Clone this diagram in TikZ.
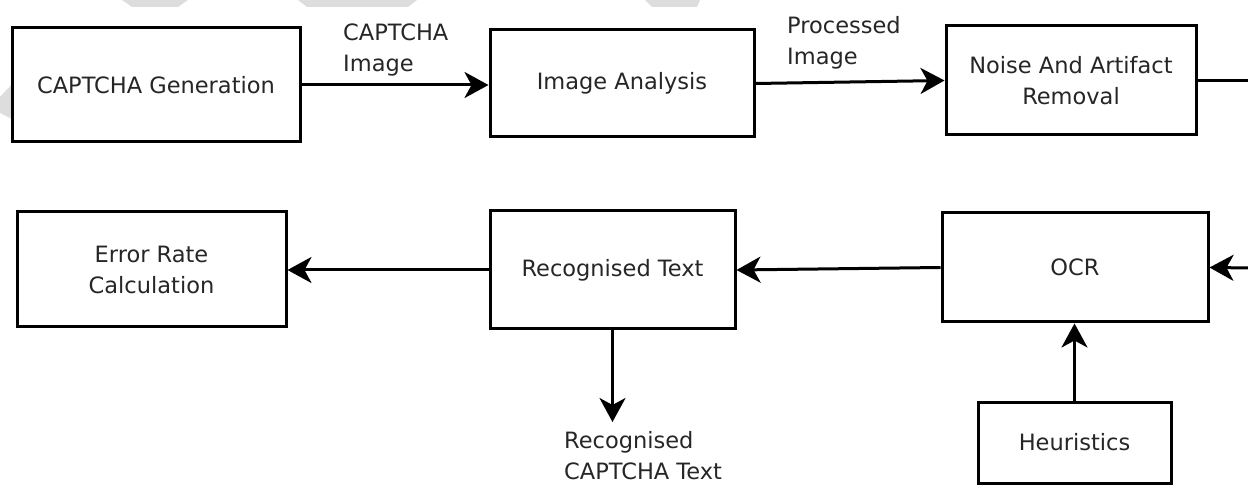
\documentclass[tikz,border=0pt]{standalone}
\usepackage{fontspec}
\setmainfont{DejaVu Sans}
\usetikzlibrary{arrows.meta}
\definecolor{backdrop}{HTML}{DDDDDD}
\definecolor{ink}{HTML}{262626}
\tikzset{
  box/.style={draw=black, line width=3pt, fill=white, align=center,
    text=ink, inner sep=0pt},
  flow/.style={draw=black, line width=3pt,
    -{Stealth[length=24pt, width=26pt, inset=7pt]}},
  plain/.style={draw=black, line width=3pt},
  lbl/.style={text=ink, align=left, inner sep=0pt, anchor=west},
}
\begin{document}
\begin{tikzpicture}[x=1pt, y=-1pt,
  every node/.append style={font=\fontsize{22.5}{31}\selectfont}]
\useasboundingbox (0,0) rectangle (1248,486);

% faint backdrop shapes along the top edge
\fill[backdrop] (122,0) -- (188,0) -- (178,7) -- (132,7) -- cycle;
\fill[backdrop] (298,0) -- (417,0) -- (408,7) -- (307,7) -- cycle;
\fill[backdrop] (645,0) -- (700,0) -- (697,7) -- (652,7) -- cycle;
\fill[backdrop] (0,97) -- (14,82) -- (14,120) -- (0,113) -- cycle;

% process boxes
\node[box, minimum width=288pt, minimum height=114pt] (gen)   at (156,85)     {CAPTCHA Generation};
\node[box, minimum width=264pt, minimum height=107pt] (ia)    at (622,83.5)   {Image Analysis};
\node[box, minimum width=250pt, minimum height=109pt] (noise) at (1071,80.5)  {Noise And Artifact\\Removal};
\node[box, minimum width=266pt, minimum height=109pt] (ocr)   at (1075,267.5) {OCR};
\node[box, minimum width=193pt, minimum height=81pt]  (heur)  at (1074.5,442.5) {Heuristics};
\node[box, minimum width=245pt, minimum height=118pt] (rt)    at (612.5,270)  {Recognised Text};
\node[box, minimum width=269pt, minimum height=115pt] (err)   at (151.5,269.5) {Error Rate\\Calculation};

% loose ends that run off the right edge / end in free space
\coordinate (noiseout) at (1252,80.5);
\coordinate (ocrin)    at (1252,268);
\coordinate (rtout)    at (612.5,422);

% connectors
\draw[flow]  (gen.east) -- (gen.east -| ia.west);
\draw[flow]  (ia.east) -- (noise.west);
\draw[plain] (noise.east) -- (noiseout);
\draw[flow]  (ocrin) -- (ocr.east);
\draw[flow]  (ocr.west) -- (rt.east);
\draw[flow]  (rt.west) -- (rt.west -| err.east);
\draw[flow]  (rt.south) -- (rtout);
\draw[flow]  (heur.north) -- (heur.north |- ocr.south);

% connector labels
\node[lbl] (l1) at (343,50) {CAPTCHA\\Image};
\node[lbl] (l2) at (787,43) {Processed\\Image};
\node[lbl] (l3) at (564,456) {Recognised\\CAPTCHA Text};
\end{tikzpicture}
\end{document}
